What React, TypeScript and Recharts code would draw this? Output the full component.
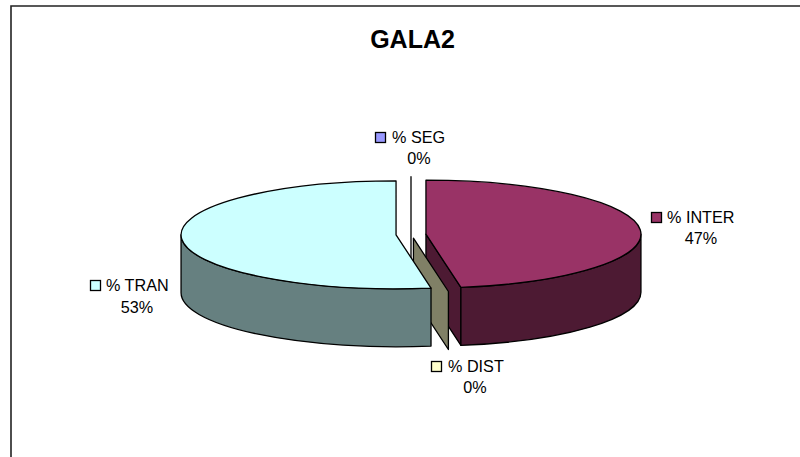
import React from "react";
import { PieChart, Pie } from "recharts";

const categories = ["% SEG", "% INTER", "% DIST", "% TRAN"];
const shareValues = [0, 47.4, 0, 52.6];
const topColors = ["#9999FF", "#993366", "#FFFFCC", "#CCFFFF"];
const wallColors = ["#4D4D80", "#4D1A33", "#808066", "#668080"];
const labelBoxes = [
  { sx: 375, sy: 132, tx: 392, ty: 142, cx: 419, cy: 164 },
  { sx: 651, sy: 212, tx: 667, ty: 222, cx: 701, cy: 244 },
  { sx: 431, sy: 361, tx: 448, ty: 371, cx: 475, cy: 393 },
  { sx: 90, sy: 280, tx: 106, ty: 290, cx: 137, cy: 313 },
];

const chartData = categories.map((name, i) => ({ name, value: shareValues[i] }));

const W = 800;
const H = 457;
const RX = 215;
const SQUASH = 54 / 215;
const DEPTH = 58;
const EXPLODE = 15;
const FONT = "'Liberation Sans', Arial, sans-serif";

const rad = Math.PI / 180;

function SliceShape(props: any) {
  const { cx, cy, outerRadius, startAngle, endAngle, index } = props;
  const mid = (startAngle + endAngle) / 2;
  const ox = cx + EXPLODE * Math.cos(mid * rad);
  const oy = cy - EXPLODE * Math.sin(mid * rad) * SQUASH;
  const ry = outerRadius * SQUASH;
  const pt = (a: number) => [
    ox + outerRadius * Math.cos(a * rad),
    oy - ry * Math.sin(a * rad),
  ];
  const top = topColors[index];
  const wall = wallColors[index];
  const stroke = { stroke: "#000", strokeWidth: 1.3, strokeLinejoin: "round" as const };
  const [sx, sy] = pt(startAngle);
  const [ex, ey] = pt(endAngle);
  const sweepAbs = Math.abs(endAngle - startAngle);

  if (sweepAbs < 0.01) {
    // a zero share leaves only its cut plane
    return (
      <path
        d={`M${ox},${oy} L${sx},${sy} L${sx},${sy + DEPTH} L${ox},${oy + DEPTH} Z`}
        fill={wall}
        {...stroke}
      />
    );
  }

  const large = sweepAbs > 180 ? 1 : 0;
  const sideParts: React.ReactNode[] = [];
  // a cut plane that faces the viewer: the clockwise end lying to the right of the apex
  if (ex > ox && ey > oy) {
    sideParts.push(
      <path
        key="cut"
        d={`M${ox},${oy} L${ex},${ey} L${ex},${ey + DEPTH} L${ox},${oy + DEPTH} Z`}
        fill={wall}
        {...stroke}
      />
    );
  }
  // outer rim: the part of the arc lying on the front half
  const lo = Math.min(startAngle, endAngle);
  const hi = Math.max(startAngle, endAngle);
  const frontStart = Math.max(lo, -180);
  const frontEnd = Math.min(hi, 0);
  if (frontEnd > frontStart) {
    const [ax, ay] = pt(frontStart);
    const [bx, by] = pt(frontEnd);
    sideParts.push(
      <path
        key="rim"
        d={`M${ax},${ay} A${outerRadius},${ry} 0 0 0 ${bx},${by} L${bx},${by + DEPTH} A${outerRadius},${ry} 0 0 1 ${ax},${ay + DEPTH} Z`}
        fill={wall}
        {...stroke}
      />
    );
  }
  return (
    <g>
      {sideParts}
      <path
        d={`M${ox},${oy} L${sx},${sy} A${outerRadius},${ry} 0 ${large} 1 ${ex},${ey} Z`}
        fill={top}
        {...stroke}
      />
    </g>
  );
}

function SliceLabel(props: any) {
  const { index, name, percent } = props;
  const b = labelBoxes[index];
  return (
    <g fontFamily={FONT} fontSize={16.2} fill="#000">
      <rect x={b.sx + 0.5} y={b.sy + 0.5} width={10} height={10} fill={topColors[index]} stroke="#000" strokeWidth={1.3} />
      <text x={b.tx} y={b.ty + 1}>{name}</text>
      <text x={b.cx} y={b.cy} textAnchor="middle">{`${Math.round(percent * 100)}%`}</text>
    </g>
  );
}

export default function App() {
  return (
    <div style={{ position: "absolute", left: 0, top: 0, width: W, height: H, background: "#fff" }}>
      <PieChart width={W} height={H} margin={{ top: 0, right: 0, bottom: 0, left: 0 }}>
        <path d="M11,457 L11,6 L800,6" fill="none" stroke="#222" strokeWidth={1.6} />
        <text x={412.5} y={48} textAnchor="middle" fontFamily={FONT} fontSize={25} fontWeight="bold" fill="#000">
          GALA2
        </text>
        <Pie
          data={chartData}
          dataKey="value"
          nameKey="name"
          cx={411}
          cy={234.5}
          innerRadius={0}
          outerRadius={RX}
          startAngle={90}
          endAngle={-270}
          stroke="none"
          isAnimationActive={false}
          shape={SliceShape}
          label={SliceLabel}
          labelLine={false}
        />
      </PieChart>
    </div>
  );
}
